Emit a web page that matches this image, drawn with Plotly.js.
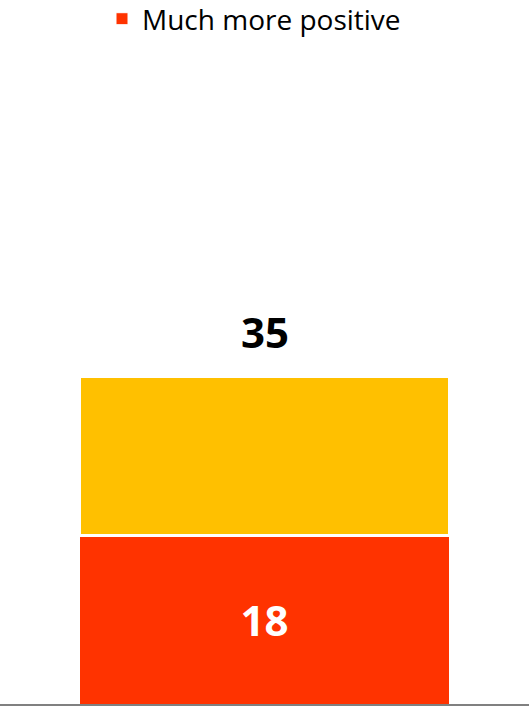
<!DOCTYPE html>
<html>
<head>
<meta charset="utf-8">
<script src="https://cdn.plot.ly/plotly-3.0.1.min.js"></script>
<style>html,body{margin:0;padding:0;background:#fff;}#chart{width:529px;height:707px;}</style>
</head>
<body>
<div id="chart"></div>
<script>
const categories = [''];
const seriesNames = ['Much more positive', 'Somewhat more positive'];
const muchMorePositive = [18];
const somewhatMorePositive = [17];
const totals = categories.map((c, i) => muchMorePositive[i] + somewhatMorePositive[i]);

const FONT = 'Open Sans, Lato, sans-serif';
const RED = '#FF3300';
const YELLOW = '#FFC000';

const traces = [
  {
    type: 'bar', x: categories, y: muchMorePositive, name: seriesNames[0],
    width: 0.7,
    marker: {color: RED, line: {color: '#ffffff', width: 1}},
    text: muchMorePositive.map(String), textposition: 'inside', insidetextanchor: 'middle',
    textfont: {family: FONT, size: 42, color: '#ffffff', weight: 'bold'},
    hoverinfo: 'skip', showlegend: true
  },
  {
    type: 'bar', x: categories, y: somewhatMorePositive, name: seriesNames[1],
    width: 0.7,
    marker: {color: YELLOW, line: {color: '#ffffff', width: 3}},
    hoverinfo: 'skip', showlegend: false
  }
];

const annotations = categories.map((c, i) => ({
  x: c, y: totals[i], xref: 'x', yref: 'y', text: '<b>' + totals[i] + '</b>',
  showarrow: false, yanchor: 'bottom', yshift: 14,
  font: {family: FONT, size: 42, color: '#000000'}
}));

const layout = {
  width: 529, height: 707,
  margin: {l: 0, r: 0, t: 40, b: 3, autoexpand: false},
  barmode: 'stack',
  paper_bgcolor: '#ffffff', plot_bgcolor: '#ffffff',
  showlegend: true,
  legend: {
    orientation: 'h', xref: 'paper', yref: 'paper',
    x: 102/529, xanchor: 'left', y: 1 + 46/664, yanchor: 'top',
    font: {family: FONT, size: 28, color: '#000000'}
  },
  xaxis: {range: [-0.5, 0.5], showticklabels: false, ticks: '', showgrid: false, zeroline: false,
          showline: true, linecolor: '#808080', linewidth: 2, fixedrange: true},
  yaxis: {range: [0, 70.94], visible: false, showgrid: false, zeroline: false, fixedrange: true},
  annotations: annotations
};

Plotly.newPlot('chart', traces, layout, {displayModeBar: false, staticPlot: true});
</script>
</body>
</html>
